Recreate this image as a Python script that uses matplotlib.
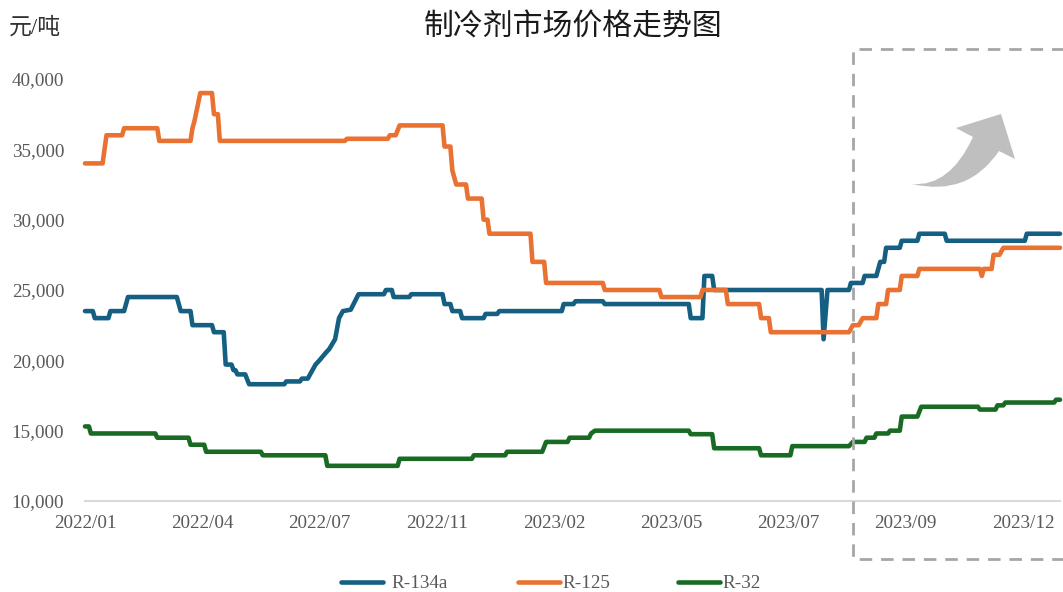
import matplotlib
matplotlib.use('Agg')
import matplotlib.pyplot as plt
from matplotlib.lines import Line2D
from matplotlib.patches import PathPatch
from matplotlib.path import Path

plt.rcParams['font.family'] = ['Liberation Serif', 'Noto Sans CJK SC']

tick_pos = [0, 60, 120, 180, 240, 300, 360, 420, 480]
tick_labels = ['2022/01', '2022/04', '2022/07', '2022/11', '2023/02', '2023/05', '2023/07', '2023/09', '2023/12']
y_ticks = [10000, 15000, 20000, 25000, 30000, 35000, 40000]

r134a_x = [0, 4, 5, 12, 13, 20, 22, 47, 49, 54, 55, 65, 66, 71, 72, 75, 76, 77, 78, 82, 84, 102, 103, 110, 111, 114,
           116, 118, 120, 123, 125, 128, 130, 132, 136, 140, 153, 154, 157, 158, 166, 167, 183, 184, 187, 188, 192, 193,
           204, 205, 211, 212, 244, 245, 250, 251, 265, 266, 309, 310, 316, 317, 321, 322, 377, 378, 380, 391, 392, 398,
           399, 405, 406, 407, 409, 410, 417, 418, 426, 427, 440, 441, 481, 482, 499]
r134a = [23500, 23500, 23000, 23000, 23500, 23500, 24500, 24500, 23500, 23500, 22500, 22500, 22000, 22000, 19700, 19700,
         19300, 19300, 19000, 19000, 18300, 18300, 18500, 18500, 18700, 18700, 19200, 19700, 20000, 20500, 20800, 21500,
         23000, 23500, 23600, 24700, 24700, 25000, 25000, 24500, 24500, 24700, 24700, 24000, 24000, 23500, 23500, 23000,
         23000, 23300, 23300, 23500, 23500, 24000, 24000, 24200, 24200, 24000, 24000, 23000, 23000, 26000, 26000, 25000,
         25000, 21500, 25000, 25000, 25500, 25500, 26000, 26000, 26500, 27000, 27000, 28000, 28000, 28500, 28500, 29000,
         29000, 28500, 28500, 29000, 29000]

r125_x = [0, 9, 11, 19, 20, 37, 38, 54, 55, 56, 59, 65, 66, 68, 69, 133, 134, 155, 156, 159, 161, 183, 184, 187, 188,
          190, 195, 196, 203, 204, 206, 207, 228, 229, 235, 236, 265, 266, 294, 295, 315, 316, 328, 329, 345, 346, 350,
          351, 391, 393, 396, 398, 405, 406, 410, 411, 417, 418, 426, 427, 458, 459, 460, 464, 465, 468, 470, 499]
r125 = [34000, 34000, 36000, 36000, 36500, 36500, 35600, 35600, 36500, 37000, 39000, 39000, 37500, 37500, 35600, 35600,
        35750, 35750, 36000, 36000, 36700, 36700, 35200, 35200, 33500, 32500, 32500, 31500, 31500, 30000, 30000, 29000,
        29000, 27000, 27000, 25500, 25500, 25000, 25000, 24500, 24500, 25000, 25000, 24000, 24000, 23000, 23000, 22000,
        22000, 22500, 22500, 23000, 23000, 24000, 24000, 25000, 25000, 26000, 26000, 26500, 26500, 26000, 26500, 26500,
        27500, 27500, 28000, 28000]

r32_x = [0, 2, 3, 36, 37, 53, 54, 61, 62, 90, 91, 123, 124, 160, 161, 198, 199, 215, 216, 234, 236, 247, 248, 258, 259,
         261, 309, 310, 321, 322, 345, 346, 361, 362, 391, 393, 399, 400, 404, 405, 411, 412, 417, 418, 426, 428, 457,
         458, 466, 467, 470, 471, 496, 497, 499]
r32 = [15300, 15300, 14800, 14800, 14500, 14500, 14000, 14000, 13500, 13500, 13250, 13250, 12500, 12500, 13000, 13000,
       13250, 13250, 13500, 13500, 14200, 14200, 14500, 14500, 14800, 15000, 15000, 14750, 14750, 13750, 13750, 13250,
       13250, 13900, 13900, 14200, 14200, 14500, 14500, 14800, 14800, 15000, 15000, 16000, 16000, 16700, 16700, 16500,
       16500, 16800, 16800, 17000, 17000, 17200, 17200]

W, H = 1063, 592


def fx(px):
    return px / W


def fy(py):
    return 1 - py / H


fig = plt.figure(figsize=(W / 100, H / 100), dpi=100)
ax = fig.add_axes([fx(85), fy(501), fx(975), 422 / H])

lw = 3.3
ax.plot(r134a_x, r134a, color='#156082', lw=lw, solid_capstyle='round', solid_joinstyle='round', clip_on=False, zorder=3)
ax.plot(r125_x, r125, color='#E97132', lw=lw, solid_capstyle='round', solid_joinstyle='round', clip_on=False, zorder=4)
ax.plot(r32_x, r32, color='#196B24', lw=lw, solid_capstyle='round', solid_joinstyle='round', clip_on=False, zorder=3)

ax.set_xlim(0, 499)
ax.set_ylim(10000, 40000)
ax.set_xticks(tick_pos)
ax.set_xticklabels(tick_labels)
ax.set_yticks(y_ticks)
ax.set_yticklabels([f'{v:,}' for v in y_ticks])
ax.tick_params(axis='both', length=0, labelsize=13.8, labelcolor='#595959')
ax.tick_params(axis='x', pad=10)
ax.tick_params(axis='y', pad=15)
for s in ['top', 'right', 'left']:
    ax.spines[s].set_visible(False)
ax.spines['bottom'].set_color('#D9D9D9')
ax.spines['bottom'].set_linewidth(1.5)

fig.text(fx(573), fy(27), '制冷剂市场价格走势图', ha='center', va='center', fontsize=21.5, color='#1a1a1a')
fig.text(fx(9), fy(28), '元/吨', ha='left', va='center', fontsize=16.5, color='#333333')

# dashed box
box_x = [fx(1070), fx(853), fx(853), fx(1070)]
box_y = [fy(49), fy(49), fy(559), fy(559)]
fig.add_artist(Line2D(box_x, box_y, color='#A6A6A6', lw=2.0, dashes=(4.5, 3.2), transform=fig.transFigure))

# arrow
verts = [(912, 184), (950, 187), (973, 137), (956, 128), (1001, 114), (1015, 159), (999, 151),
         (968, 197), (912, 184), (912, 184)]
codes = [Path.MOVETO, Path.CURVE3, Path.CURVE3, Path.LINETO, Path.LINETO, Path.LINETO, Path.LINETO,
         Path.CURVE3, Path.CURVE3, Path.CLOSEPOLY]
verts = [(fx(a), fy(b)) for a, b in verts]
fig.add_artist(PathPatch(Path(verts, codes), facecolor='#BFBFBF', edgecolor='none', transform=fig.transFigure))

# legend
legend_names = ['R-134a', 'R-125', 'R-32']
legend_colors = ['#156082', '#E97132', '#196B24']
legend_line = [(341, 383), (518, 560), (678, 720)]
legend_text = [391, 562, 722]
for name, c, ln, tx in zip(legend_names, legend_colors, legend_line, legend_text):
    fig.add_artist(Line2D([fx(ln[0]), fx(ln[1])], [fy(582), fy(582)], color=c, lw=lw,
                          solid_capstyle='round', transform=fig.transFigure))
    fig.text(fx(tx), fy(583), name, ha='left', va='center', fontsize=13.8, color='#595959')

fig.savefig('out.png', dpi=100)
